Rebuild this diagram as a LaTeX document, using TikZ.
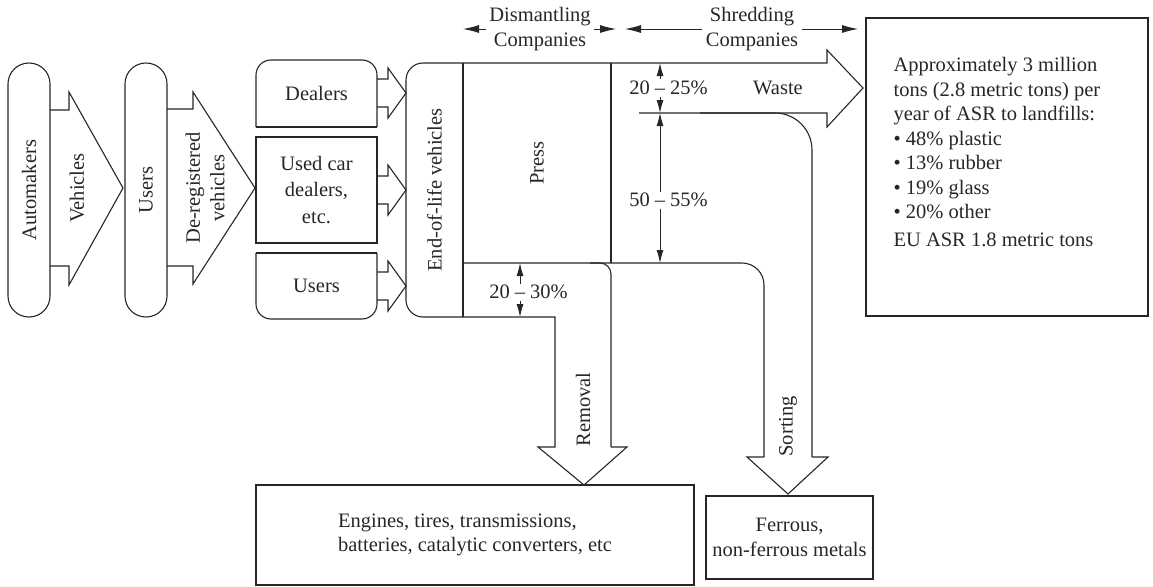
\documentclass[tikz,border=0pt]{standalone}
\usepackage{fontspec}
\setmainfont{Liberation Serif}
\usetikzlibrary{arrows.meta}
\begin{document}
\begin{tikzpicture}[x=1pt,y=-1pt, line width=1.1pt, draw=black!85, text=black!85,
  font=\fontsize{20.5}{24.5}\selectfont,
  lbl/.style={inner sep=0pt, align=center},
  dimarr/.style={-{Latex[length=13pt,width=7pt]}, line width=0.9pt},
  hdrarr/.style={-{Latex[length=16pt,width=8pt]}, line width=0.9pt},
  pill/.style={draw, rounded corners=20.9pt, rotate=90, minimum width=254pt, minimum height=42pt, inner sep=0pt},
  smallarrow/.pic={\draw (0,-14) -- (11,-14) -- (11,-25) -- (29,0) -- (11,25) -- (11,14) -- (0,14);}
]
\useasboundingbox (0,0) rectangle (1153,586);

% pills
\node[pill] (automakers) at (29,190) {Automakers};
\node[pill] (users1) at (146,190) {Users};

% big arrows on left
\draw (50,110) -- (69,110) -- (69,92) -- (123,188) -- (69,285) -- (69,266) -- (50,266);
\node[lbl, rotate=90] (vehicles) at (77,188) {Vehicles};
\draw (167,109) -- (193,109) -- (193,92) -- (255,188) -- (193,284) -- (193,266) -- (167,266);
\node[lbl, rotate=90] (dereg) at (205,188) {De-registered\\vehicles};

% three source boxes
\draw[rounded corners=15pt] (256,127) -- (256,60) -- (377,60) -- (377,127);
\draw (256,127) -- (377,127);
\node[lbl] (dealers) at (316.5,93.5) {Dealers};
\node[draw, minimum width=121pt, minimum height=106pt, inner sep=0pt, align=center,
  font=\fontsize{20.5}{26.5}\selectfont] (usedcar) at (316.5,190) {Used car\\dealers,\\etc.};
\draw[rounded corners=15pt] (256,253) -- (256,319) -- (377,319) -- (377,253);
\draw (256,253) -- (377,253);
\node[lbl] (users2) at (316.5,286) {Users};

\pic at (377,93) {smallarrow};
\pic at (377,190) {smallarrow};
\pic at (377,286) {smallarrow};

% ELV block
\draw[rounded corners=17pt] (463,63) -- (406,63) -- (406,317) -- (463,317);
\draw (463,63) -- (463,317);
\node[lbl, rotate=90] (elv) at (434.5,190) {End-of-life vehicles};

% press and flows
\draw (463,63) -- (827,63) -- (827,50) -- (863,88) -- (827,127) -- (827,113) -- (639,113);
\draw (611,63) -- (611,263);
\node[lbl, rotate=90] (press) at (537,163) {Press};
\node[lbl] (waste) at (778,88) {Waste};

\draw[rounded corners=22pt] (463,263) -- (764,263) -- (764,457);
\draw[rounded corners=37pt] (700,113) -- (812,113) -- (812,457);
\draw (764,457) -- (747,457) -- (788,494) -- (828,457) -- (812,457);
\node[lbl, rotate=90, anchor=west] (sorting) at (788,457) {Sorting};

\draw[rounded corners=11pt] (590,263) -- (611,263) -- (611,447);
\draw (611,447) -- (627,447) -- (584,485) -- (538,447) -- (555,447) -- (555,317) -- (463,317);
\node[lbl, rotate=90, anchor=west] (removal) at (583,447) {Removal};

% dimensions
\node[inner sep=1pt] (d1) at (660,88) {\llap{20 }–\rlap{ 25\%}};
\draw[dimarr] (d1.north) -- (660,63);
\draw[dimarr] (d1.south) -- (660,113);
\node[inner sep=1pt] (d2) at (660,200) {\llap{50 }–\rlap{ 55\%}};
\draw[dimarr] (d2.north) -- (660,113);
\draw[dimarr] (d2.south) -- (660,263);
\node[inner sep=1pt] (d3) at (520,292) {\llap{20 }–\rlap{ 30\%}};
\draw[dimarr] (d3.north) -- (520,263);
\draw[dimarr] (d3.south) -- (520,317);

% headers
\node[lbl, inner sep=3pt] (hdis) at (540,29) {Dismantling\\Companies};
\draw[hdrarr] (hdis.west) -- (463,29);
\draw[hdrarr] (hdis.east) -- (616,29);
\node[lbl, inner sep=3pt] (hshr) at (752,29) {Shredding\\Companies};
\draw[hdrarr] (hshr.west) -- (625,29);
\draw[hdrarr] (hshr.east) -- (858,29);

% ASR box
\node[draw, minimum width=282pt, minimum height=298pt, inner sep=0pt] (asr) at (1007,167) {};
\node[anchor=north west, align=left, inner sep=0pt] (asrtext) at (893,57)
 {Approximately 3 million\\tons (2.8 metric tons) per\\year of ASR to landfills:\\
  \textbullet\ 48\% plastic\\\textbullet\ 13\% rubber\\\textbullet\ 19\% glass\\\textbullet\ 20\% other\\[3pt]
  EU ASR 1.8 metric tons};

% bottom boxes
\node[draw, minimum width=438pt, minimum height=100pt, inner sep=0pt, align=left] (parts) at (475,535)
 {Engines, tires, transmissions,\\batteries, catalytic converters, etc};
\node[draw, minimum width=167pt, minimum height=83pt, inner sep=0pt, align=center] (metals) at (789.5,537.5)
 {Ferrous,\\non-ferrous metals};
\end{tikzpicture}
\end{document}
